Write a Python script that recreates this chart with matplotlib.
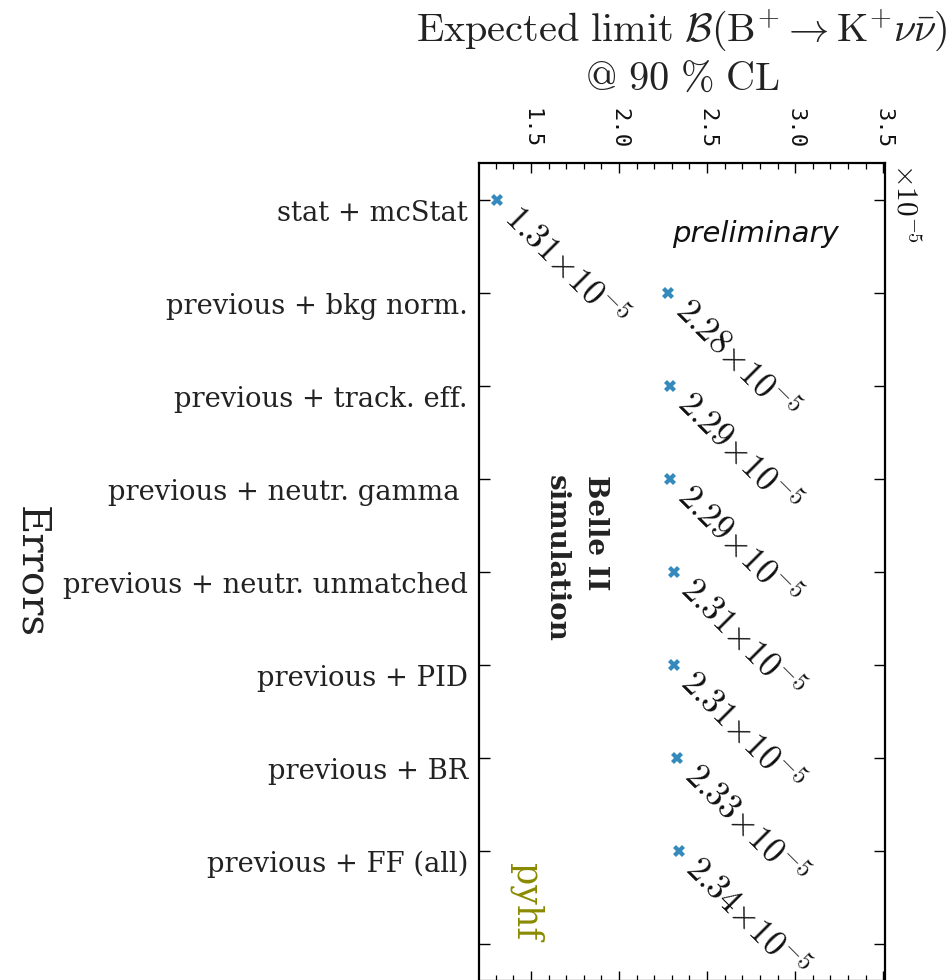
import matplotlib
matplotlib.use("Agg")
import matplotlib.pyplot as plt
from matplotlib.ticker import MultipleLocator, FixedLocator

plt.rcParams["mathtext.fontset"] = "cm"

# Expected upper limits (in units of 1e-5) after adding each group of uncertainties
error_sources = [
    "stat + mcStat",
    "previous + bkg norm.",
    "previous + track. eff.",
    "previous + neutr. gamma ",
    "previous + neutr. unmatched",
    "previous + PID",
    "previous + BR",
    "previous + FF (all)",
]
limits_e5 = [1.31, 2.28, 2.29, 2.29, 2.31, 2.31, 2.33, 2.34]
x_ticks = [1.5, 2.0, 2.5, 3.0, 3.5]
x_tick_labels = ["1.5", "2.0", "2.5", "3.0", "3.5"]

W, H = 946, 980
fig = plt.figure(figsize=(W / 100, H / 100), dpi=100)
ax = fig.add_axes([479 / W, -1 / H, 406 / W, 818 / H])

pos = list(range(len(error_sources)))
ax.plot(limits_e5, pos, linestyle="none", marker="X", markersize=9,
        color="#348ABD", markeredgewidth=0)

for v, p in zip(limits_e5, pos):
    ax.text(v, p, rf"${v:.2f}{{\times}}10^{{-5}}$", rotation=-45,
            ha="left", va="top", fontsize=25, color="#111111")

ax.set_xlim(0.92 * min(limits_e5), 1.5 * max(limits_e5))
ax.set_ylim(len(error_sources) + 0.4, -0.4)

# x axis on top, labels rotated
ax.xaxis.set_major_locator(FixedLocator(x_ticks))
ax.xaxis.set_minor_locator(MultipleLocator(0.1))
ax.set_xticks(x_ticks)
ax.set_xticklabels(x_tick_labels, rotation=-90, fontsize=16,
                   family="DejaVu Sans Mono", color="#111111")
ax.xaxis.set_ticks_position("both")
ax.xaxis.set_label_position("top")
ax.tick_params(axis="x", which="both", direction="in", top=True, bottom=True,
               labeltop=True, labelbottom=False, pad=10.5)
ax.tick_params(axis="x", which="major", length=7.5, width=1.0)
ax.tick_params(axis="x", which="minor", length=4.3, width=0.9)

ax.set_yticks(list(range(len(error_sources) + 1)))
ax.set_yticklabels(error_sources + [""], fontsize=19.7, family="DejaVu Serif",
                   color="#222222", va="top")
ax.tick_params(axis="y", which="both", direction="in", left=True, right=True,
               length=8, width=1.0, pad=8)

for s in ax.spines.values():
    s.set_linewidth(1.6)

ax.set_xlabel(r"$\mathrm{Expected\ limit}\ \mathcal{B}(\mathrm{B}^{+}\to\mathrm{K}^{+}\nu\bar{\nu})$"
              "\n" r"$\mathrm{@\ 90\ \%\ CL}$", fontsize=29, color="#222222",
              linespacing=1.15)
ax.xaxis.set_label_coords(0.5, (H - 97 - 1) / 818)
ax.xaxis.label.set_va("bottom")

ax.set_ylabel("Errors", family="DejaVu Serif", fontsize=29, rotation=270,
              color="#222222", va="center", ha="center")
ax.yaxis.set_label_coords((31 - 479) / 406, 0.5)

# scale factor of the x axis
ax.text((890 - 479) / 406, 1.0, r"$\times10^{-5}$", transform=ax.transAxes,
        rotation=270, ha="left", va="top", fontsize=21, color="#111111")

ax.text(0.68, (H - 1 - 232) / 818, "preliminary", transform=ax.transAxes,
        ha="center", va="center", fontsize=21, style="italic",
        family="DejaVu Sans", color="#111111")
ax.text((576 - 479) / 406, (H - 1 - 473) / 818, "Belle II\nsimulation",
        transform=ax.transAxes, rotation=270, ha="center", va="top",
        multialignment="left", fontsize=20, fontweight="bold",
        linespacing=1.6, family="DejaVu Serif", color="#222222")
ax.text((526 - 479) / 406, (H - 1 - 900) / 818, "pyhf", transform=ax.transAxes,
        rotation=270, ha="center", va="center", fontsize=25,
        family="DejaVu Serif", color="#8a8a00")

fig.savefig("out.png", dpi=100)
